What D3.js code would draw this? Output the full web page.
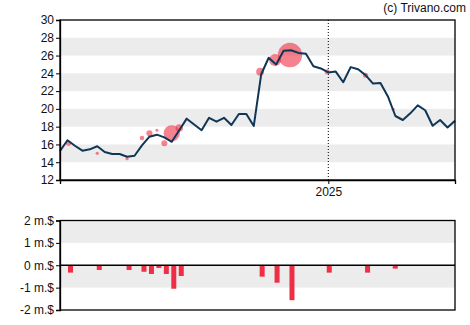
<!DOCTYPE html>
<html><head><meta charset="utf-8">
<script src="https://cdn.jsdelivr.net/npm/d3@7"></script>
<style>body{margin:0;background:#fff}svg{display:block}text{font-family:"Liberation Sans",Arial,sans-serif}</style>
</head><body><svg id="c" width="470" height="325"></svg>
<script>
// weekly closing prices, starting 2024-04-24
const startDate = "2024-04-24";
const prices = [15.26,16.47,15.85,15.3,15.45,15.8,15.15,14.93,14.93,14.62,14.73,15.9,16.87,17.1,16.8,16.3,17.6,18.9,18.25,17.6,19.0,18.56,19.0,18.19,19.43,19.43,18.08,23.9,25.75,25.0,26.55,26.6,26.3,26.2,24.8,24.55,24.1,24.2,23.0,24.7,24.45,23.8,22.85,22.9,21.4,19.2,18.75,19.5,20.4,19.85,18.1,18.75,17.9,18.67];
// insider trades: days after start, price, value (m.$)
const tradeDays = [8,35,63,77,84,91,98,105,112,188,202,216,251,287,313];
const tradePrices = [16.13,15.0,14.4,16.73,17.25,17.6,16.13,17.25,17.85,24.18,25.5,26.06,24.18,23.78,19.95];
const tradeValues = [-0.33,-0.21,-0.21,-0.29,-0.39,-0.12,-0.39,-1.05,-0.48,-0.51,-0.78,-1.56,-0.33,-0.33,-0.15];
const priceTicks = [12,14,16,18,20,22,24,26,28,30];
const volTicks = [2,1,0,-1,-2];
const volLabels = ["2 m.$","1 m.$","0 m.$","-1 m.$","-2 m.$"];

const svg = d3.select("#c");
const L = 60, R = 455, T1 = 20, B1 = 180, T2 = 220.5, B2 = 310;
const parse = d3.utcParse("%Y-%m-%d");
const d0 = parse(startDate);
const dates = prices.map((p,i)=>d3.utcDay.offset(d0, i*7));
const tDates = tradeDays.map(d=>d3.utcDay.offset(d0, d));
const x = d3.scaleUtc().domain([dates[0], dates[dates.length-1]]).range([L, R]);
const y = d3.scaleLinear().domain([12,30]).range([B1, T1]);
const yv = d3.scaleLinear().domain([-2,2]).range([B2, T2]);

// bands
[[26,28],[22,24],[18,20],[14,16]].forEach(b=>{
  svg.append("rect").attr("x",L).attr("width",R-L).attr("y",y(b[1])).attr("height",y(b[0])-y(b[1])).attr("fill","#ececec");
});
[[1,2],[-1,0]].forEach(b=>{
  svg.append("rect").attr("x",L).attr("width",R-L).attr("y",yv(b[1])).attr("height",yv(b[0])-yv(b[1])).attr("fill","#ececec");
});

// 2025 dotted line
const d2025 = parse("2025-01-01");
svg.append("line").attr("x1",x(d2025)).attr("x2",x(d2025)).attr("y1",T1).attr("y2",B1)
  .attr("stroke","#000").attr("stroke-dasharray","1,2");

// bubbles
const rs = v => Math.max(1.5, Math.abs(v)*7.8);
svg.append("g").selectAll("circle").data(tDates).join("circle")
  .attr("cx",d=>x(d)).attr("cy",(d,i)=>y(tradePrices[i])).attr("r",(d,i)=>rs(tradeValues[i]))
  .attr("fill","#ee2e44").attr("fill-opacity",0.6);

// price line
svg.append("path").datum(prices).attr("fill","none").attr("stroke","#0f3656").attr("stroke-width",2)
  .attr("stroke-linejoin","round")
  .attr("d", d3.line().x((d,i)=>x(dates[i])).y(d=>y(d)));

// bars
svg.append("g").selectAll("rect").data(tDates).join("rect")
  .attr("x",d=>x(d)-0.5).attr("width",5)
  .attr("y",(d,i)=>yv(Math.max(0,tradeValues[i])))
  .attr("height",(d,i)=>Math.abs(yv(tradeValues[i])-yv(0)))
  .attr("fill","#ee2e44");

// frames
svg.append("rect").attr("x",L).attr("y",T1).attr("width",R-L).attr("height",B1-T1).attr("fill","none").attr("stroke","#000").attr("stroke-width",1.3);
svg.append("rect").attr("x",L).attr("y",T2).attr("width",R-L).attr("height",B2-T2).attr("fill","none").attr("stroke","#000").attr("stroke-width",1.3);
svg.append("line").attr("x1",L).attr("x2",R).attr("y1",yv(0)).attr("y2",yv(0)).attr("stroke","#000").attr("stroke-width",1.3);

// axes
const ay = svg.append("g").attr("transform",`translate(${L},0)`)
  .call(d3.axisLeft(y).tickValues(priceTicks).tickSize(4).tickPadding(2).tickFormat(d3.format("d")));
const av = svg.append("g").attr("transform",`translate(${L},0)`)
  .call(d3.axisLeft(yv).tickValues(volTicks).tickSize(4).tickPadding(2).tickFormat((d,i)=>volLabels[i]));
const ax = svg.append("g").attr("transform",`translate(0,${B1})`)
  .call(d3.axisBottom(x).tickValues([d2025]).tickSize(4).tickPadding(3).tickFormat(d3.utcFormat("%Y")));
[ay,av,ax].forEach(g=>{
  g.select(".domain").attr("stroke","#000").attr("stroke-width",1.3);
  g.selectAll(".tick line").attr("stroke","#000");
  g.selectAll("text").attr("fill","#111").style("font-size","12px").style("font-family","'Liberation Sans',Arial,sans-serif");
});

svg.append("text").attr("x",466).attr("y",12).attr("text-anchor","end")
  .style("font-size","12px").attr("fill","#111").text("(c) Trivano.com");
</script></body></html>
